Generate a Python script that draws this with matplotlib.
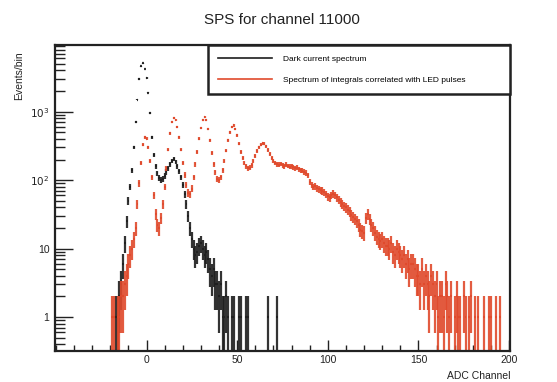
import numpy as np
import matplotlib
matplotlib.use("Agg")
import matplotlib.pyplot as plt
from matplotlib.ticker import FixedLocator, FuncFormatter, LogLocator, NullFormatter

plt.rcParams['font.family'] = ['Liberation Sans', 'DejaVu Sans']

# Dark-current spectrum: counts per ADC channel, first bin at channel -17
dark_start = -17
dark_counts = [
    1, 1, 2, 3, 6, 12, 25, 50, 80, 140,
    300, 700, 1500, 3000, 4600, 5100, 4200, 3100, 1900, 950,
    420, 230, 160, 125, 108, 100, 104, 115, 132, 150,
    170, 190, 205, 185, 160, 135, 110, 85, 62, 45,
    30, 20, 14, 10, 8, 9, 11, 12, 10, 8,
    9, 7, 5, 4, 5, 3, 3, 2, 3, 1,
    1, 2, 1, 0, 1, 1, 0, 0, 1, 1,
    0, 0, 1, 1, 0, 0, 0, 0, 0, 0,
    0, 0, 0, 0, 1, 0, 0, 0, 0, 1,
]

# Spectrum of integrals correlated with LED pulses, first bin at channel -19
led_start = -19
led_counts = [
    1, 1, 0, 1, 1, 2, 2, 3, 4, 6,
    8, 10, 14, 20, 45, 90, 180, 330, 420, 400,
    300, 190, 110, 60, 32, 22, 20, 28, 45, 80,
    150, 280, 480, 700, 820, 760, 600, 420, 280, 180,
    120, 85, 65, 62, 75, 110, 170, 260, 400, 580,
    760, 840, 760, 560, 380, 250, 170, 130, 105, 100,
    110, 140, 190, 270, 380, 500, 600, 630, 560, 450,
    340, 260, 210, 180, 160, 150, 152, 165, 190, 225,
    265, 300, 330, 345, 340, 310, 275, 240, 210, 190,
    178, 170, 168, 172, 165, 160, 168, 162, 158, 160,
    155, 150, 152, 145, 140, 138, 132, 128, 118, 95,
    85, 80, 82, 76, 74, 72, 70, 66, 62, 58,
    56, 60, 63, 60, 56, 52, 48, 45, 42, 40,
    37, 35, 31, 29, 27, 25, 22, 19, 18, 17,
    28, 32, 27, 22, 20, 17, 15, 14, 13, 14,
    12, 11, 11, 10, 12, 9, 8, 10, 9, 8,
    7, 8, 6, 7, 5, 6, 6, 5, 4, 4,
    3, 5, 3, 4, 3, 2, 4, 3, 2, 3,
    1, 2, 2, 1, 3, 2, 1, 2, 0, 1,
    2, 1, 1, 0, 2, 1, 0, 1, 2, 0,
    1, 0, 1, 0, 0, 1, 0, 0, 1, 1,
    0, 0, 1, 0, 1,
]

x_ticks = [0, 50, 100, 150, 200]
x_tick_labels = ["0", "50", "100", "150", "200"]
legend_labels = ["Dark current spectrum",
                 "Spectrum of integrals correlated with LED pulses"]

BLACK = "#1e1e1e"
RED = "#e04a2c"


def draw_hist(ax, start, counts, color):
    counts = np.asarray(counts, dtype=float)
    centers = start + np.arange(len(counts))
    keep = counts > 0
    c = centers[keep]
    n = counts[keep]
    err = np.sqrt(n)
    lower = np.where(n - err <= 0, n - 1e-3, err)
    ax.errorbar(c, n, xerr=0.5, yerr=[lower, err], fmt='none',
                ecolor=color, elinewidth=1.6, capsize=0, alpha=0.9)


fig = plt.figure(figsize=(5.57, 3.82), dpi=100)
ax = fig.add_axes([55 / 557, 1 - 351 / 382, 455 / 557, 306 / 382])

draw_hist(ax, dark_start, dark_counts, BLACK)
draw_hist(ax, led_start, led_counts, RED)

ax.set_yscale('log')
ax.set_xlim(-50.5, 200.5)
ax.set_ylim(0.32, 9400)

# axis ticks in the style of the frame: inward, left and bottom only
ax.xaxis.set_major_locator(FixedLocator(x_ticks))
ax.set_xticklabels(x_tick_labels)
ax.xaxis.set_minor_locator(FixedLocator(np.arange(-50, 201, 10)))
ax.yaxis.set_major_locator(LogLocator(base=10, numticks=10))
ax.yaxis.set_minor_locator(LogLocator(base=10, subs=np.arange(2, 10), numticks=20))
ax.yaxis.set_minor_formatter(NullFormatter())


def ylab(v, pos):
    e = int(round(np.log10(v)))
    if e == 0:
        return "1"
    if e == 1:
        return "10"
    return r"$10^{%d}$" % e


ax.yaxis.set_major_formatter(FuncFormatter(ylab))
ax.tick_params(axis='both', which='both', direction='in', top=False, right=False,
               labelsize=7.5, colors='#222222', width=1.0)
ax.tick_params(axis='y', which='major', length=13, pad=4)
ax.tick_params(axis='y', which='minor', length=7)
ax.tick_params(axis='x', which='major', length=8, pad=3)
ax.tick_params(axis='x', which='minor', length=4)

for s in ax.spines.values():
    s.set_linewidth(1.6)
    s.set_color('#222222')

fig.text(282 / 557, 1 - 20 / 382, "SPS for channel 11000", ha='center', va='center',
         fontsize=11, color='#222222')
ax.set_xlabel("ADC Channel", fontsize=7.5, color='#222222')
ax.xaxis.set_label_coords(1.0, -0.065)
ax.xaxis.label.set_ha('right')
ax.set_ylabel("Events/bin", fontsize=7.5, color='#222222')
ax.yaxis.set_label_coords(-0.09, 0.98)
ax.yaxis.label.set_va('top')
ax.yaxis.label.set_ha('right')

handles = [plt.Line2D([], [], color=BLACK, lw=1.2),
           plt.Line2D([], [], color=RED, lw=1.2)]
leg = ax.legend(handles, legend_labels, loc='upper left',
                bbox_to_anchor=(0.336, 0.817, 0.664, 0.183), mode='expand',
                fontsize=6, handlelength=6.5, handletextpad=1.3,
                labelspacing=1.6, borderpad=1.2, fancybox=False,
                borderaxespad=0.0, framealpha=1)
leg.get_frame().set_edgecolor('#222222')
leg.get_frame().set_linewidth(1.8)

fig.savefig("out.png", dpi=100)
